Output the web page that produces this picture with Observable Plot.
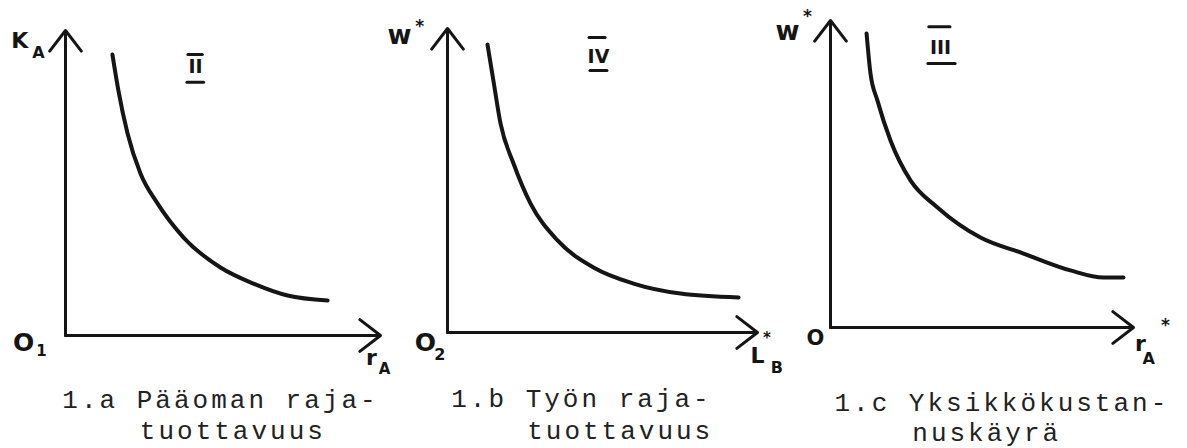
<!DOCTYPE html>
<html>
<head>
<meta charset="utf-8">
<script src="https://cdn.jsdelivr.net/npm/d3@7"></script>
<script src="https://cdn.jsdelivr.net/npm/@observablehq/plot@0.6"></script>
<style>
  body { margin: 0; background: #ffffff; }
  #wrap { display: flex; width: 1187px; height: 448px; overflow: hidden; }
  #wrap svg { overflow: visible; display: block; }
</style>
</head>
<body>
<div id="wrap"></div>
<script>
// ---------- data (domain 0..10 on both axes) ----------
const panels = ["1.a", "1.b", "1.c"];

// 1.a  Pääoman rajatuottavuus
const curveA_x = [1.49, 1.68, 1.97, 2.38, 2.92, 3.75, 4.92, 5.97, 7.05, 8.32];
const curveA_y = [9.21, 8.03, 6.62, 5.31, 4.33, 3.21, 2.23, 1.70, 1.31, 1.15];
// 1.b  Työn rajatuottavuus
const curveB_x = [1.29, 1.48, 1.71, 2.13, 2.68, 3.55, 4.71, 6.00, 7.52, 9.39];
const curveB_y = [9.47, 8.29, 6.88, 5.56, 4.24, 3.03, 2.14, 1.61, 1.28, 1.15];
// 1.c  Yksikkökustannuskäyrä
const curveC_x = [1.19, 1.32, 1.55, 1.98, 2.64, 3.53, 4.95, 6.37, 7.92, 9.01, 9.67];
const curveC_y = [9.58, 8.27, 7.39, 6.09, 4.79, 3.91, 2.93, 2.41, 1.86, 1.63, 1.63];

const captionsA = ["1.a Pääoman raja-", "tuottavuus"];
const captionsB = ["1.b Työn raja-", "tuottavuus"];
const captionsC = ["1.c Yksikkökustan-", "nuskäyrä"];

const romanA = "II", romanB = "IV", romanC = "III";

const labelTextsA = ["K", "A", "O", "1", "r", "A"];
const labelTextsB = ["w", "*", "O", "2", "L", "*", "B"];
const labelTextsC = ["w", "*", "O", "r", "A", "*"];

// ---------- layout (where each panel sits; positions in data units) ----------
const layout = [
  { w: 392, ml: 65, mr: 12, mt: 30, mb: 113,
    cx: curveA_x, cy: curveA_y, cap: captionsA, capPos: [[-0.10, -2.10], [2.36, -3.11]],
    roman: romanA, romanPos: [4.13, 8.82], over: [3.90, 4.36, 9.21], under: [3.87, 4.40, 8.30],
    labels: labelTextsA,
    labelPos: [[-1.45, 9.67, 22], [-0.86, 9.28, 16], [-1.33, -0.23, 25], [-0.76, -0.50, 15], [9.71, -0.75, 22], [10.13, -1.10, 15]] },
  { w: 398, ml: 55, mr: 33, mt: 28, mb: 116,
    cx: curveB_x, cy: curveB_y, cap: captionsB, capPos: [[0.12, -2.17], [2.57, -3.22]],
    roman: romanB, romanPos: [4.87, 9.05], over: [4.58, 5.10, 9.70], under: [4.61, 5.16, 8.62],
    labels: labelTextsB,
    labelPos: [[-1.55, 9.77, 26], [-0.90, 10.05, 17], [-0.71, -0.33, 25], [-0.25, -0.74, 16], [10.0, -0.76, 22], [10.30, -0.20, 15], [10.62, -1.15, 16]] },
  { w: 397, ml: 40, mr: 54, mt: 20, mb: 121,
    cx: curveC_x, cy: curveC_y, cap: captionsC, capPos: [[0.13, -2.44], [2.70, -3.42]],
    roman: romanC, romanPos: [3.63, 9.12], over: [3.26, 3.96, 9.80], under: [3.23, 4.13, 8.60],
    labels: labelTextsC,
    labelPos: [[-1.42, 9.64, 26], [-0.76, 10.12, 17], [-0.50, -0.36, 21], [10.23, -0.52, 22], [10.50, -1.03, 16], [11.05, 0.05, 17]] }
];

const axes = [
  { x1: 0, y1: 0, x2: 0, y2: 10 },
  { x1: 0, y1: 0, x2: 10, y2: 0 }
];

const ink = "#151515";
const wrap = document.getElementById("wrap");

layout.forEach((p, i) => {
  const curve = p.cx.map((x, k) => ({ x, y: p.cy[k] }));
  const caps = p.cap.map((t, k) => ({ t, x: p.capPos[k][0], y: p.capPos[k][1] }));
  const labs = p.labels.map((t, k) => ({ t, x: p.labelPos[k][0], y: p.labelPos[k][1], s: p.labelPos[k][2] }));
  const bars = [
    { x1: p.over[0], x2: p.over[1], y: p.over[2] },
    { x1: p.under[0], x2: p.under[1], y: p.under[2] }
  ];
  const svg = Plot.plot({
    width: p.w,
    height: 448,
    marginLeft: p.ml,
    marginRight: p.mr,
    marginTop: p.mt,
    marginBottom: p.mb,
    x: { domain: [0, 10], axis: null },
    y: { domain: [0, 10], axis: null },
    marks: [
      Plot.arrow(axes, { x1: "x1", y1: "y1", x2: "x2", y2: "y2", stroke: ink, strokeWidth: 3, headLength: 13, headAngle: 75 }),
      Plot.line(curve, { x: "x", y: "y", curve: "monotone-x", stroke: ink, strokeWidth: 4, strokeLinecap: "round" }),
      Plot.text([p.roman], { x: p.romanPos[0], y: p.romanPos[1], text: d => d, fontSize: 19, fontWeight: "bold", fill: ink, fontFamily: "DejaVu Sans" }),
      Plot.ruleY(bars, { x1: "x1", x2: "x2", y: "y", stroke: ink, strokeWidth: 3, strokeLinecap: "round" }),
      ...labs.map(d => Plot.text([d], { x: "x", y: "y", text: "t", fontSize: d.s, fontWeight: "bold", fill: ink, fontFamily: "DejaVu Sans" })),
      Plot.text(caps, { x: "x", y: "y", text: "t", textAnchor: "start", fontSize: 26, fill: "#222", fontFamily: "'Liberation Mono', 'DejaVu Sans Mono', monospace" })
    ]
  });
  const capSet = new Set(p.cap);
  d3.select(svg).selectAll("text")
    .filter(function () { return capSet.has(this.textContent); })
    .attr("letter-spacing", "3px")
    .style("letter-spacing", "3px");
  wrap.appendChild(svg);
});
</script>
</body>
</html>
